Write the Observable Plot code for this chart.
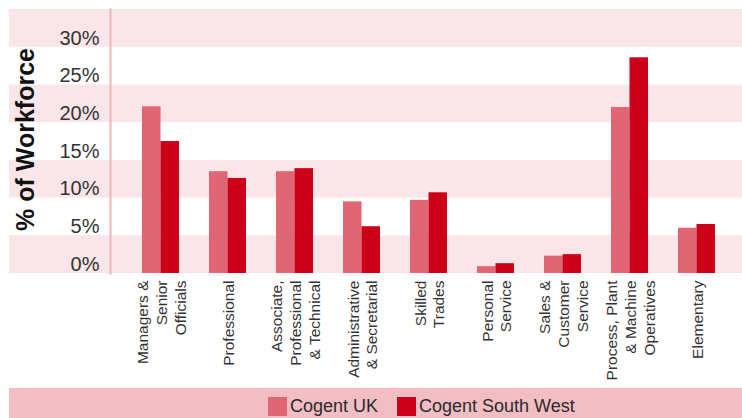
<!DOCTYPE html>
<html><head><meta charset="utf-8">
<script src="https://cdn.jsdelivr.net/npm/d3@7"></script>
<script src="https://cdn.jsdelivr.net/npm/@observablehq/plot@0.6"></script>
<style>
html,body{margin:0;padding:0;background:#fff;font-family:"Liberation Sans",Arial,sans-serif;}
#chart svg{display:block;}
#legend{position:relative;margin-left:9px;width:733px;height:30px;background:#f2bec3;}
.sw{position:absolute;top:9px;width:19px;height:19px;}
.lt{position:absolute;top:7px;font-size:18px;color:#2a2a2a;line-height:22px;white-space:nowrap;}
</style></head>
<body><div id="chart"></div><div id="legend"></div>
<script>
const categories = ["Managers &\nSenior\nOfficials", "Professional", "Associate,\nProfessional\n& Technical", "Administrative\n& Secretarial", "Skilled\nTrades", "Personal\nService", "Sales &\nCustomer\nService", "Process, Plant\n& Machine\nOperatives", "Elementary"];
const cogentUK = [22.1, 13.5, 13.5, 9.5, 9.7, 0.9, 2.3, 22.0, 6.0];
const cogentSW = [17.5, 12.6, 13.9, 6.2, 10.7, 1.3, 2.5, 28.6, 6.5];
const yTicks = [0, 5, 10, 15, 20, 25, 30];
const bandStarts = [0, 10, 20, 30];
const seriesNames = ["Cogent UK", "Cogent South West"];
const seriesColors = ["#e06673", "#cc0018"];

const ukRows = categories.map((c, i) => ({category: c, value: cogentUK[i]}));
const swRows = categories.map((c, i) => ({category: c, value: cogentSW[i]}));
const half = 18.5;

const plot = Plot.plot({
  width: 742,
  height: 388,
  marginLeft: 110,
  marginRight: 0,
  marginTop: 9,
  marginBottom: 115,
  style: {fontFamily: "Liberation Sans, Arial, sans-serif", background: "#fff"},
  x: {domain: categories, paddingInner: 0.45, paddingOuter: 0.424, align: 0.535, label: null},
  y: {domain: [0, 35], label: null},
  marks: [
    Plot.rect(bandStarts, {y1: d => d, y2: d => d + 5, fill: "#fae5e8", insetLeft: -101}),
    Plot.frame({anchor: "left", stroke: "#f0b4bc", strokeWidth: 2}),
    Plot.barY(ukRows, {x: "category", y: "value", fill: seriesColors[0], insetRight: half}),
    Plot.barY(swRows, {x: "category", y: "value", fill: seriesColors[1], insetLeft: half}),
    Plot.axisY(yTicks, {tickSize: 0, tickPadding: 11, tickFormat: d => d + "%", fontSize: 20, fill: "#333", dy: -9, label: null}),
    Plot.axisX({tickSize: 0, tickPadding: 7, tickRotate: -90, fontSize: 15.5, fill: "#333", lineHeight: 1.2, label: null}),
    Plot.text(["% of Workforce"], {frameAnchor: "left", textAnchor: "middle", rotate: -90, dx: -85, dy: -2, fontSize: 25, fontWeight: "bold", fill: "#111"})
  ]
});
document.getElementById("chart").appendChild(plot);

const legend = document.getElementById("legend");
const swLeft = [259, 388];
seriesNames.forEach((name, i) => {
  const s = document.createElement("div");
  s.className = "sw";
  s.style.left = swLeft[i] + "px";
  s.style.background = seriesColors[i];
  legend.appendChild(s);
  const t = document.createElement("div");
  t.className = "lt";
  t.style.left = (swLeft[i] + 22) + "px";
  t.textContent = name;
  legend.appendChild(t);
});
</script>
</body></html>
